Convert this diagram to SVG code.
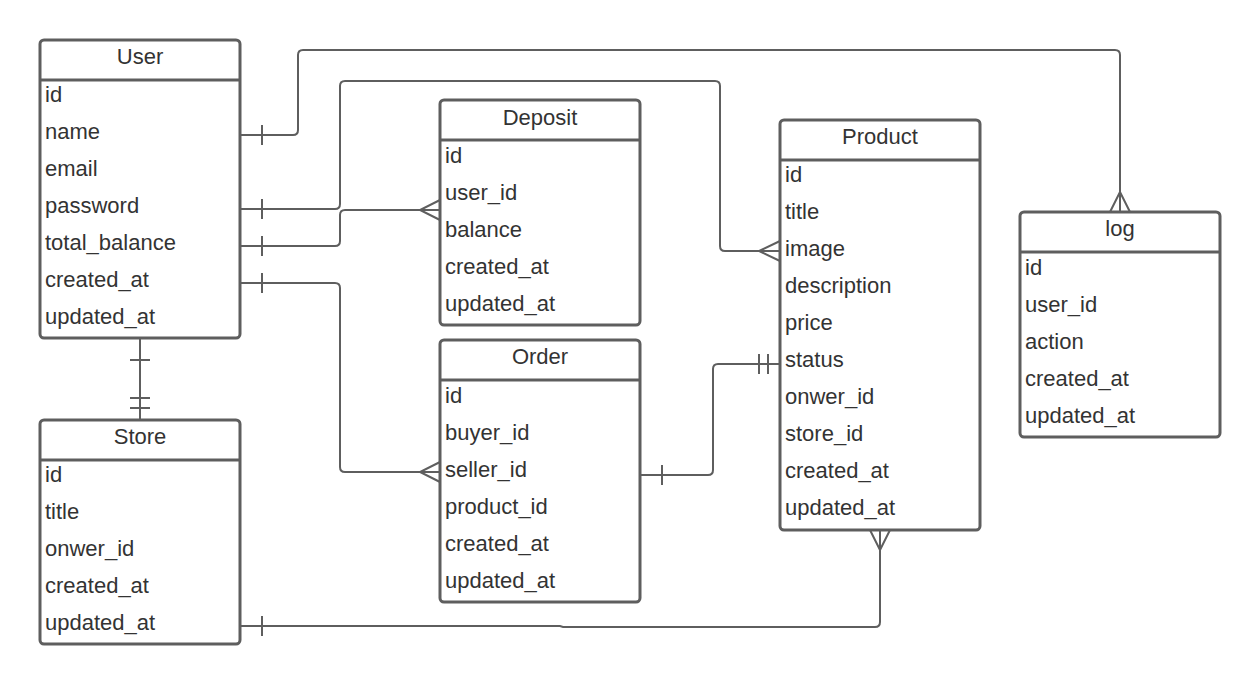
<svg xmlns="http://www.w3.org/2000/svg" width="1260" height="685" viewBox="0 0 1260 685">
<style>
.box{fill:#ffffff;stroke:#5e5e5e;stroke-width:3}
.sep{stroke:#5e5e5e;stroke-width:3}
.t{font-family:"Liberation Sans",Arial,sans-serif;font-size:22px;fill:#333333}
.h{text-anchor:middle}
.c{fill:none;stroke:#5e5e5e;stroke-width:2}
</style>
<rect width="1260" height="685" fill="#ffffff"/>
<g id="connectors">
<path class="c" d="M240,135 H293 Q298,135 298,130 V55 Q298,50 303,50 H1115 Q1120,50 1120,55 V212"/>
<path class="c" d="M262,125 V145 M1110,212 L1120,192 L1130,212"/>
<path class="c" d="M240,209 H335 Q340,209 340,204 V86 Q340,81 345,81 H715 Q720,81 720,86 V246 Q720,251 725,251 H780"/>
<path class="c" d="M262,199 V219 M780,241 L759,251 L780,261"/>
<path class="c" d="M240,246 H335 Q340,246 340,241 V215 Q340,210 345,210 H440"/>
<path class="c" d="M262,236 V256 M440,200 L420,210 L440,220"/>
<path class="c" d="M240,283 H335 Q340,283 340,288 V467 Q340,472 345,472 H440"/>
<path class="c" d="M262,273 V293 M440,462 L420,472 L440,482"/>
<path class="c" d="M640,475 H708 Q713,475 713,470 V369 Q713,364 718,364 H780"/>
<path class="c" d="M662,465 V485 M759,354 V374 M768,354 V374"/>
<path class="c" d="M240,626 H560 L563,627 H875 Q880,627 880,622 V530"/>
<path class="c" d="M262,616 V636 M870,530 L880,550 L890,530"/>
<path class="c" d="M140,338 V420 M130,360 H150 M130,398 H150 M130,408 H150"/>
</g>
<g id="user">
<rect class="box" x="40" y="40" width="200" height="298" rx="4"/>
<line class="sep" x1="40" y1="80" x2="240" y2="80"/>
<text class="t h" x="140" y="64">User</text>
<text class="t" x="45" y="102">id</text>
<text class="t" x="45" y="139">name</text>
<text class="t" x="45" y="176">email</text>
<text class="t" x="45" y="213">password</text>
<text class="t" x="45" y="250">total_balance</text>
<text class="t" x="45" y="287">created_at</text>
<text class="t" x="45" y="324">updated_at</text>
</g>
<g id="store">
<rect class="box" x="40" y="420" width="200" height="224" rx="4"/>
<line class="sep" x1="40" y1="460" x2="240" y2="460"/>
<text class="t h" x="140" y="444">Store</text>
<text class="t" x="45" y="482">id</text>
<text class="t" x="45" y="519">title</text>
<text class="t" x="45" y="556">onwer_id</text>
<text class="t" x="45" y="593">created_at</text>
<text class="t" x="45" y="630">updated_at</text>
</g>
<g id="deposit">
<rect class="box" x="440" y="100" width="200" height="225" rx="4"/>
<line class="sep" x1="440" y1="140" x2="640" y2="140"/>
<text class="t h" x="540" y="125">Deposit</text>
<text class="t" x="445" y="163">id</text>
<text class="t" x="445" y="200">user_id</text>
<text class="t" x="445" y="237">balance</text>
<text class="t" x="445" y="274">created_at</text>
<text class="t" x="445" y="311">updated_at</text>
</g>
<g id="order">
<rect class="box" x="440" y="340" width="200" height="262" rx="4"/>
<line class="sep" x1="440" y1="380" x2="640" y2="380"/>
<text class="t h" x="540" y="364">Order</text>
<text class="t" x="445" y="403">id</text>
<text class="t" x="445" y="440">buyer_id</text>
<text class="t" x="445" y="477">seller_id</text>
<text class="t" x="445" y="514">product_id</text>
<text class="t" x="445" y="551">created_at</text>
<text class="t" x="445" y="588">updated_at</text>
</g>
<g id="product">
<rect class="box" x="780" y="120" width="200" height="410" rx="4"/>
<line class="sep" x1="780" y1="160" x2="980" y2="160"/>
<text class="t h" x="880" y="144">Product</text>
<text class="t" x="785" y="182">id</text>
<text class="t" x="785" y="219">title</text>
<text class="t" x="785" y="256">image</text>
<text class="t" x="785" y="293">description</text>
<text class="t" x="785" y="330">price</text>
<text class="t" x="785" y="367">status</text>
<text class="t" x="785" y="404">onwer_id</text>
<text class="t" x="785" y="441">store_id</text>
<text class="t" x="785" y="478">created_at</text>
<text class="t" x="785" y="515">updated_at</text>
</g>
<g id="log">
<rect class="box" x="1020" y="212" width="200" height="225" rx="4"/>
<line class="sep" x1="1020" y1="252" x2="1220" y2="252"/>
<text class="t h" x="1120" y="236">log</text>
<text class="t" x="1025" y="275">id</text>
<text class="t" x="1025" y="312">user_id</text>
<text class="t" x="1025" y="349">action</text>
<text class="t" x="1025" y="386">created_at</text>
<text class="t" x="1025" y="423">updated_at</text>
</g>
</svg>
